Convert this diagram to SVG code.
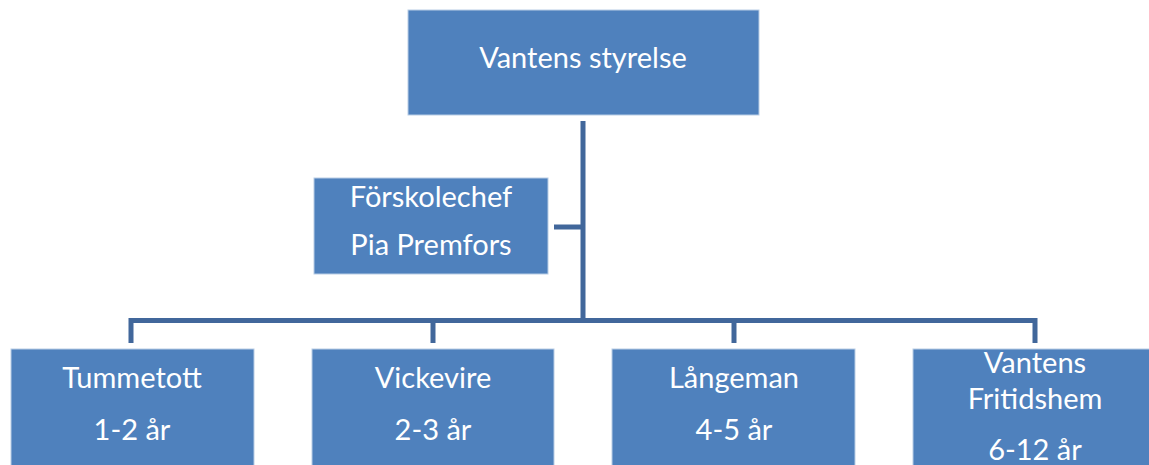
<svg xmlns="http://www.w3.org/2000/svg" width="1149" height="465" viewBox="0 0 1149 465">
<style>
.box{fill:#4F81BD;stroke:#B9CDE5;stroke-width:1}
.t{font-family:Lato,"Open Sans","Liberation Sans",sans-serif;font-size:29px;fill:#FFFFFF;text-anchor:middle}
.c{fill:none;stroke:#41679B;stroke-width:5;stroke-linejoin:miter}
</style>
<rect width="1149" height="465" fill="#FFFFFF"/>
<g id="connectors">
<path class="c" d="M583 121 V320"/>
<path class="c" d="M554 227 H583"/>
<path class="c" d="M131 343 V320.5 H1035 V343"/>
<path class="c" d="M433 320 V343"/>
<path class="c" d="M734 320 V343"/>
</g>
<g id="styrelse">
<rect class="box" x="408" y="10" width="351" height="105"/>
<text class="t" x="583" y="68">Vantens styrelse</text>
</g>
<g id="forskolechef">
<rect class="box" x="314" y="178" width="234" height="96"/>
<text class="t" x="431" y="207">Förskolechef</text>
<text class="t" x="431" y="255">Pia Premfors</text>
</g>
<g id="tummetott">
<rect class="box" x="11" y="349" width="243" height="130"/>
<text class="t" x="132" y="388">Tummetott</text>
<text class="t" x="132" y="440">1-2 år</text>
</g>
<g id="vickevire">
<rect class="box" x="312" y="349" width="242" height="130"/>
<text class="t" x="433" y="388">Vickevire</text>
<text class="t" x="433" y="440">2-3 år</text>
</g>
<g id="langeman">
<rect class="box" x="612" y="349" width="243" height="130"/>
<text class="t" x="734" y="388">Långeman</text>
<text class="t" x="734" y="440">4-5 år</text>
</g>
<g id="fritidshem">
<rect class="box" x="913" y="349" width="243" height="130"/>
<text class="t" x="1035" y="373">Vantens</text>
<text class="t" x="1035" y="409">Fritidshem</text>
<text class="t" x="1035" y="460">6-12 år</text>
</g>
</svg>
